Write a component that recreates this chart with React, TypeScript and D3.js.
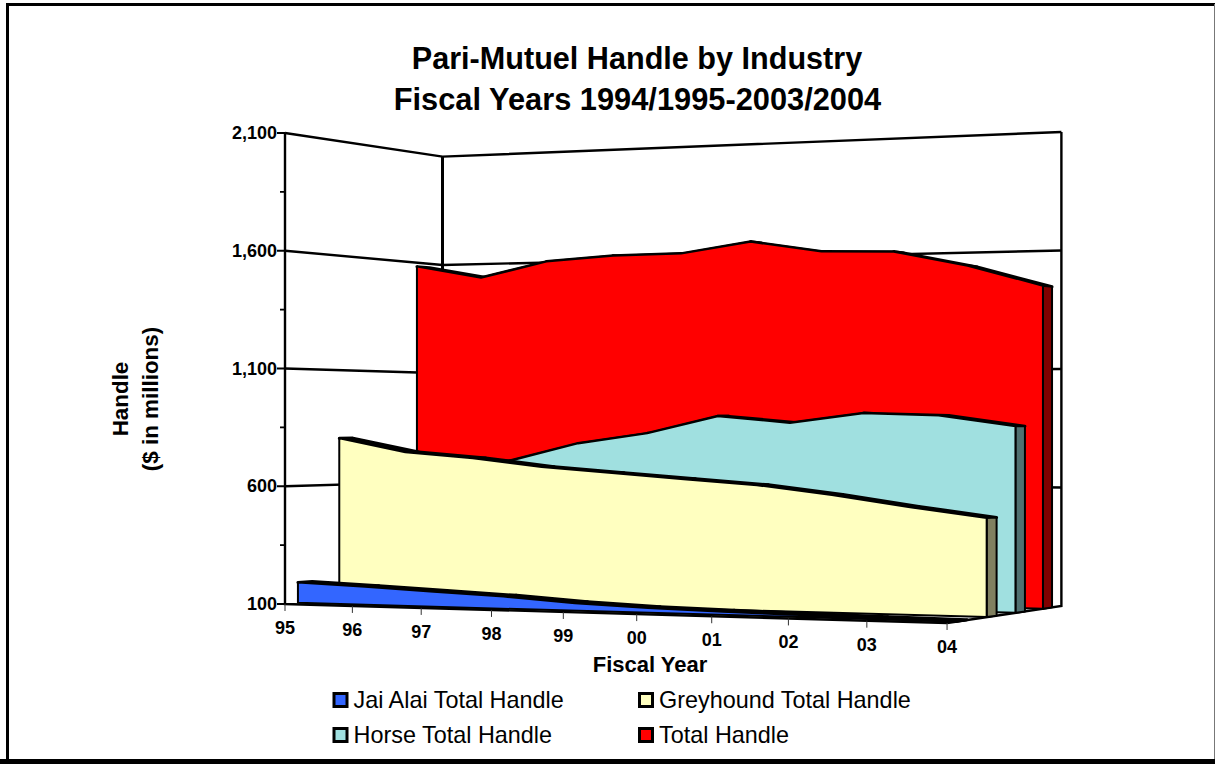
import React from "react";
import * as d3 from "d3";

const fiscalYears = ["95", "96", "97", "98", "99", "00", "01", "02", "03", "04"];
const jaiAlaiHandle = [187, 176, 163, 150, 131, 119, 113, 108, 104, 101];
const greyhoundHandle = [803, 743, 719, 683, 660, 637, 615, 578, 533, 493];
const horseHandle = [700, 680, 705, 782, 826, 899, 871, 911, 902, 858];
const totalHandle = [1582, 1525, 1591, 1610, 1612, 1656, 1606, 1598, 1532, 1442];
const yMajorTicks = [100, 600, 1100, 1600, 2100];
const yMinorTicks = [350, 850, 1350, 1850];
const FONT = "'Liberation Sans', Arial, sans-serif";

const series = [
  { name: "Total Handle", values: totalHandle, front: "#ff0000", side: "#800000", top: "#ff0000", depth: 0.826 },
  { name: "Horse Total Handle", values: horseHandle, front: "#a0e0e0", side: "#507070", top: "#a0e0e0", depth: 0.576 },
  { name: "Greyhound Total Handle", values: greyhoundHandle, front: "#ffffc0", side: "#808060", top: "#ffffc0", depth: 0.326 },
  { name: "Jai Alai Total Handle", values: jaiAlaiHandle, front: "#3366ff", side: "#1a3380", top: "#3366ff", depth: 0.076 },
];
const THICK = 0.085;

const uScale = d3.scaleLinear().domain([0, fiscalYears.length - 1]).range([0, 1]);
const vScale = d3.scaleLinear().domain([100, 2100]).range([0, 1]);

// projective camera: u along years, w into depth, v up the value axis
function project(i: number, value: number, w: number): [number, number] {
  const u = uScale(i);
  const v = vScale(value);
  const D = 1 - 0.0934 * u + 0.087 * w;
  return [(573.6 * u + 196 * w + 285) / D, (-39.2 * u + 37.3 * w + 604 - 471 * v) / D];
}

const line = d3.line<[number, number]>();
const poly = (pts: [number, number][]) => line(pts) + "Z";

const n = fiscalYears.length;
const wallTop = 2100;
const wallBottom = 100;

export default function App() {
  return (
    <svg width={1215} height={764} style={{ position: "absolute", left: 0, top: 0 }} fontFamily={FONT}>
      <rect x={0} y={0} width={1215} height={764} fill="#fff" />
      <rect x={7.5} y={4.5} width={1300} height={800} fill="#fff" stroke="#000" strokeWidth={3} />
      <rect x={0} y={759} width={1215} height={5} fill="#000" />
      <rect x={1214} y={4} width={1} height={755} fill="#777" />

      <text x={637} y={69} textAnchor="middle" fontSize={30.6} fontWeight="bold">Pari-Mutuel Handle by Industry</text>
      <text x={637.5} y={110} textAnchor="middle" fontSize={30.8} fontWeight="bold">Fiscal Years 1994/1995-2003/2004</text>

      {/* walls */}
      {yMajorTicks.filter(t => t !== wallBottom).map(t => {
        const a = project(0, t, 0), b = project(0, t, 1), c = project(n - 1, t, 1);
        return <path key={t} d={line([a, b, c])!} fill="none" stroke="#000" strokeWidth={2.4} />;
      })}
      <path d={line([project(0, wallTop, 1), project(0, wallBottom, 1)])!} stroke="#000" strokeWidth={3} fill="none" />
      <path d={line([project(n - 1, wallTop, 1), project(n - 1, wallBottom, 1), project(n - 1, wallBottom, 0)])!} stroke="#000" strokeWidth={2.4} fill="none" />

      {/* series, back to front */}
      {series.map(s => {
        const w0 = s.depth, w1 = s.depth + THICK;
        const frontPts = s.values.map((val, i) => project(i, val, w0));
        const backPts = s.values.map((val, i) => project(i, val, w1));
        const face: [number, number][] = [
          project(0, wallBottom, w0), ...frontPts, project(n - 1, wallBottom, w0),
        ];
        const sideFace: [number, number][] = [
          frontPts[n - 1], backPts[n - 1], project(n - 1, wallBottom, w1), project(n - 1, wallBottom, w0),
        ];
        return (
          <g key={s.name} stroke="#000" strokeLinejoin="round">
            {s.values.slice(0, -1).map((_, i) => (
              <path key={i} d={poly([frontPts[i], frontPts[i + 1], backPts[i + 1], backPts[i]])} fill={s.top} strokeWidth={3} />
            ))}
            <path d={poly(sideFace)} fill={s.side} strokeWidth={2} />
            <path d={poly(face)} fill={s.front} strokeWidth={2} />
          </g>
        );
      })}

      {/* value axis */}
      <path d={line([project(0, wallTop, 0), project(0, wallBottom, 0), project(n - 1, wallBottom, 0)])!} stroke="#000" strokeWidth={2.4} fill="none" />
      {yMajorTicks.map(t => {
        const [x, y] = project(0, t, 0);
        return (
          <g key={t}>
            <line x1={x - 8} x2={x} y1={y} y2={y} stroke="#000" strokeWidth={2} />
            <text x={x - 8} y={y + 6} textAnchor="end" fontSize={18} fontWeight="bold">{d3.format(",")(t)}</text>
          </g>
        );
      })}
      {yMinorTicks.map(t => {
        const [x, y] = project(0, t, 0);
        return <line key={t} x1={x - 5} x2={x} y1={y} y2={y} stroke="#000" strokeWidth={1.8} />;
      })}

      {/* year axis */}
      {fiscalYears.map((yr, i) => {
        const [x, y] = project(i, wallBottom, 0);
        return (
          <g key={yr}>
            <line x1={x} x2={x} y1={y} y2={y + 7} stroke="#333" strokeWidth={1} />
            <text x={x} y={y + 30} textAnchor="middle" fontSize={18} fontWeight="bold">{yr}</text>
          </g>
        );
      })}

      <text x={650} y={672} textAnchor="middle" fontSize={22} fontWeight="bold">Fiscal Year</text>
      <g transform="translate(128,399) rotate(-90)">
        <text x={0} y={0} textAnchor="middle" fontSize={22.4} fontWeight="bold">Handle</text>
        <text x={0} y={30} textAnchor="middle" fontSize={22.4} fontWeight="bold">($ in millions)</text>
      </g>

      {[
        { s: series[3], x: 334, y: 693.5 },
        { s: series[2], x: 639.5, y: 693.5 },
        { s: series[1], x: 334, y: 728.5 },
        { s: series[0], x: 639.5, y: 728.5 },
      ].map(({ s, x, y }) => (
        <g key={s.name}>
          <rect x={x} y={y} width={13} height={13} fill={s.front} stroke="#000" strokeWidth={3} />
          <text x={x + 19.5} y={y + 14} fontSize={23.4}>{s.name}</text>
        </g>
      ))}
    </svg>
  );
}
